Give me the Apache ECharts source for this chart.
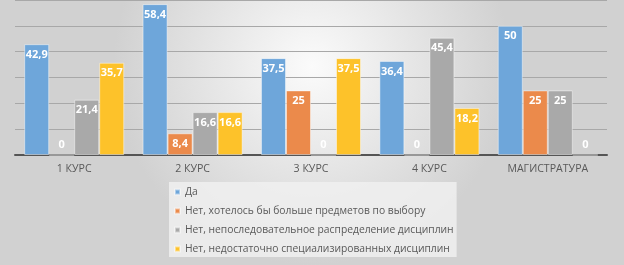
<!DOCTYPE html>
<html><head><meta charset="utf-8">
<script src="https://cdn.jsdelivr.net/npm/echarts@6/dist/echarts.min.js"></script>
<style>html,body{margin:0;padding:0;}#c{width:624px;height:265px;}</style>
</head><body><div id="c"></div>
<script>
const categories = ['1 КУРС', '2 КУРС', '3 КУРС', '4 КУРС', 'МАГИСТРАТУРА'];
const seriesNames = ['Да', 'Нет, хотелось бы больше предметов по выбору', 'Нет, непоследовательное распределение дисциплин', 'Нет, недостаточно специализированных дисциплин'];
const yes = [42.9, 58.4, 37.5, 36.4, 50];
const moreElective = [0, 8.4, 25, 0, 25];
const inconsistent = [21.4, 16.6, 0, 45.4, 25];
const notSpecialized = [35.7, 16.6, 37.5, 18.2, 0];
const colors = ['#6ea6da', '#eb8a4b', '#a9a9a9', '#fdc22a'];

const font = "'Open Sans', 'Noto Sans', sans-serif";
function mk(name, vals, color) {
  return {
    name: name, type: 'bar', barGap: '0%', barCategoryGap: '15.5%',
    itemStyle: { color: color, borderColor: 'rgba(255,255,255,0.45)', borderWidth: 1 },
    data: vals.map(v => ({
      value: v,
      label: { position: v === 0 ? 'insideBottom' : 'insideTop' }
    })),
    label: {
      show: true, distance: 5,
      fontFamily: font, fontSize: 11, fontWeight: 'bold', color: '#ffffff',
      formatter: p => String(p.value).replace('.', ',')
    }
  };
}
const chart = echarts.init(document.getElementById('c'));
chart.setOption({
  animation: false,
  backgroundColor: {
    type: 'radial', x: 0.5, y: 0.25, r: 0.75,
    colorStops: [{ offset: 0, color: '#fbfbfb' }, { offset: 1, color: '#d1d1d1' }]
  },
  grid: { left: 15, right: 17, top: 0, height: 155 },
  xAxis: {
    type: 'category', data: categories,
    axisTick: { show: false },
    axisLine: { lineStyle: { color: '#555', width: 2 } },
    axisLabel: { color: '#595959', fontFamily: font, fontSize: 10.6, margin: 8 }
  },
  yAxis: {
    type: 'value', min: 0, max: 60, interval: 10,
    axisLabel: { show: false },
    splitLine: { lineStyle: { color: '#a8a8a8', width: 1 } }
  },
  legend: {
    orient: 'vertical', left: 169, top: 182,
    itemWidth: 5, itemHeight: 5, itemGap: 7, icon: 'rect',
    backgroundColor: 'rgba(240,240,240,0.85)',
    padding: [4, 3, 2, 5],
    textStyle: { color: '#595959', fontFamily: font, fontSize: 10.3, lineHeight: 12 },
    data: seriesNames
  },
  series: [
    mk(seriesNames[0], yes, colors[0]),
    mk(seriesNames[1], moreElective, colors[1]),
    mk(seriesNames[2], inconsistent, colors[2]),
    mk(seriesNames[3], notSpecialized, colors[3])
  ]
});
</script></body></html>
